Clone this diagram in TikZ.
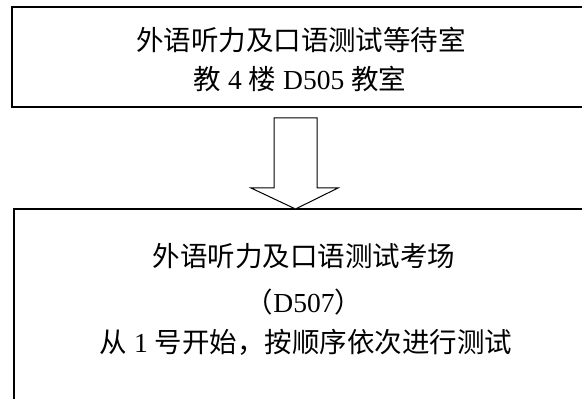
\documentclass[tikz,border=0pt]{standalone}
\usepackage{fontspec}
\setmainfont{Liberation Serif}
\newfontfamily\cjk{Noto Sans CJK SC}
\usetikzlibrary{calc}
\newcommand{\zh}[1]{{\cjk #1}}
\tikzset{
  roomtext/.style={anchor=base, inner sep=0pt, font=\fontsize{27.5}{33}\selectfont}
}

\begin{document}
\begin{tikzpicture}[x=1pt, y=1pt]
	\useasboundingbox (0,0) rectangle (582,399);
	\clip (0,0) rectangle (582,399);
	
	% waiting room (upper box)
	\coordinate (W) at (12,292);
	\draw[line width=2] (W) rectangle (600,392);
	\node[roomtext] (waitname) at (301,348.5) {\zh{外语听力及口语测试等待室}};
	\node[roomtext] (waitplace) at (300,309.5) {\zh{教} 4 \zh{楼} D505 \zh{教室}};
	
	% exam room (lower box)
	\coordinate (E) at (14,190);
	\draw[line width=1.6] (E) rectangle (600,-20);
	\node[roomtext] (examname) at (304,132.5) {\zh{外语听力及口语测试考场}};
	\node[roomtext] (examplace) at (304,86.5) {\zh{（}D507\zh{）}};
	\node[roomtext] (examorder) at (306,46.5) {\zh{从} 1 \zh{号开始，按顺序依次进行测试}};
	
	% hollow arrow between the boxes
	\coordinate (tip) at (295.5,190);
	\draw[line width=1, fill=white, line join=miter] (tip) -- ++(-44.5,21) -- ++(23,0) -- ++(0,70) -- ++(43,0) -- ++(0,-70) -- ++(21,0) -- cycle;
\end{tikzpicture}
\end{document}
